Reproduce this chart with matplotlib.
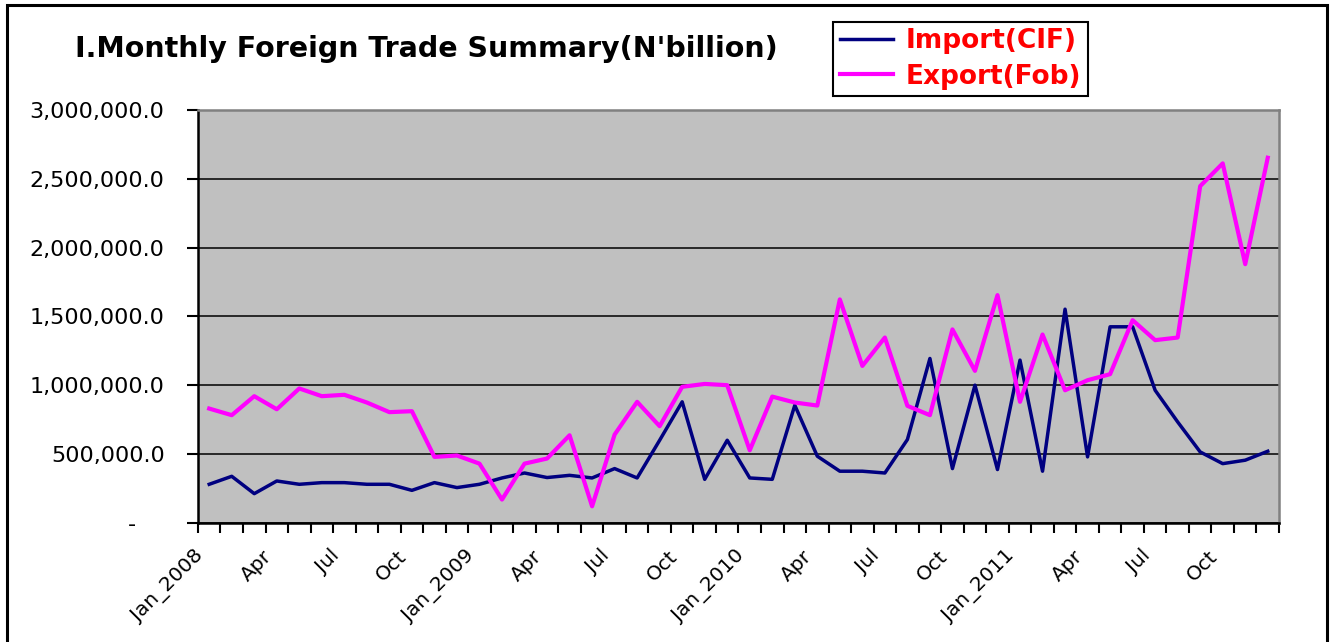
'''Monthly foreign trade summary, 2008-2011.'''

import matplotlib
matplotlib.use('Agg')
import matplotlib.pyplot as plt
from matplotlib.patches import Rectangle
from matplotlib.ticker import FuncFormatter, FixedLocator
from matplotlib.transforms import ScaledTranslation

plt.rcParams['font.family'] = ['DejaVu Sans']

# Monthly values, Jan 2008 .. Dec 2011.
imports = [281000, 339000, 213000, 305000, 281000, 293000, 293000, 281000,
           281000, 237000, 293000, 257000, 281000, 327000, 363000, 330000,
           346000, 327000, 395000, 327000, 601000, 880000, 317000, 601000,
           327000, 317000, 855000, 485000, 376000, 376000, 363000, 606000,
           1195000, 395000, 1001000, 388000, 1183000, 376000, 1553000, 480000,
           1425000, 1425000, 964000, 734000, 516000, 431000, 456000, 521000]
exports = [831000, 783000, 921000, 826000, 977000, 921000, 931000, 875000,
           805000, 812000, 480000, 490000, 431000, 170000, 431000, 468000,
           637000, 121000, 642000, 880000, 703000, 989000, 1010000, 1001000,
           528000, 918000, 875000, 853000, 1624000, 1141000, 1347000, 851000,
           783000, 1406000, 1105000, 1655000, 880000, 1369000, 964000, 1037000,
           1081000, 1473000, 1328000, 1347000, 2447000, 2612000, 1880000, 2653000]
month_labels = ['Jan_2008', 'Apr', 'Jul', 'Oct', 'Jan_2009', 'Apr', 'Jul', 'Oct',
                'Jan_2010', 'Apr', 'Jul', 'Oct', 'Jan_2011', 'Apr', 'Jul', 'Oct']
y_ticks = [0, 500000, 1000000, 1500000, 2000000, 2500000, 3000000]

fig = plt.figure(figsize=(13.33, 6.42), dpi=100)
ax = fig.add_axes([0.1485, 0.1854, 0.811, 0.6433])
ax.set_facecolor('#C0C0C0')

x = list(range(len(imports)))
ax.plot(x, imports, color='#000080', lw=2.5, label='Import(CIF)', zorder=3)
ax.plot(x, exports, color='#FF00FF', lw=3.0, label='Export(Fob)', zorder=3)

ax.set_xlim(-0.5, len(x) - 0.5)
ax.set_ylim(0, 3000000)

# Y axis: Excel style number format, zero shown as a dash.
ax.set_yticks(y_ticks)
ax.yaxis.set_major_formatter(FuncFormatter(
    lambda v, p: '-    ' if v == 0 else f'{v:,.1f}'))
ax.yaxis.grid(True, color='black', lw=1.1)
ax.set_axisbelow(True)
ax.tick_params(axis='y', length=8, width=1.5, labelsize=16, pad=16)

# X axis: tick marks between months, labels every quarter.
ax.set_xticks(list(range(0, len(x), 3)))
ax.set_xticklabels(month_labels, rotation=45, ha='right', va='center',
                   rotation_mode='anchor', fontsize=14.5)
ax.tick_params(axis='x', length=0, pad=22)
shift = ScaledTranslation(-0.08, 0, fig.dpi_scale_trans)
for lab in ax.get_xticklabels():
    lab.set_transform(lab.get_transform() + shift)
ax.xaxis.set_minor_locator(FixedLocator([i - 0.5 for i in range(len(x) + 1)]))
ax.tick_params(axis='x', which='minor', length=7, width=1.5)

for s in ['left', 'bottom']:
    ax.spines[s].set_color('black')
    ax.spines[s].set_linewidth(1.8)
for s in ['top', 'right']:
    ax.spines[s].set_color('#808080')
    ax.spines[s].set_linewidth(1.8)

fig.text(0.0563, 0.924, "I.Monthly Foreign Trade Summary(N'billion)",
         fontsize=20.5, fontweight='bold', va='center', ha='left')

leg = fig.legend(loc='upper left', bbox_to_anchor=(0.625, 0.966),
                 prop={'weight': 'bold', 'size': 19}, labelcolor='red',
                 fancybox=False, edgecolor='black', framealpha=1,
                 handlelength=2.0, handletextpad=0.5, borderpad=0.25,
                 labelspacing=0.35, borderaxespad=0)
leg.get_frame().set_linewidth(1.5)

# Outer chart border.
fig.patches.append(Rectangle((7 / 1333, -0.05), 1320 / 1333, 0.05 + 637 / 642,
                             transform=fig.transFigure, fill=False,
                             edgecolor='black', lw=2.2, clip_on=False))

plt.savefig('out.png', dpi=100)
